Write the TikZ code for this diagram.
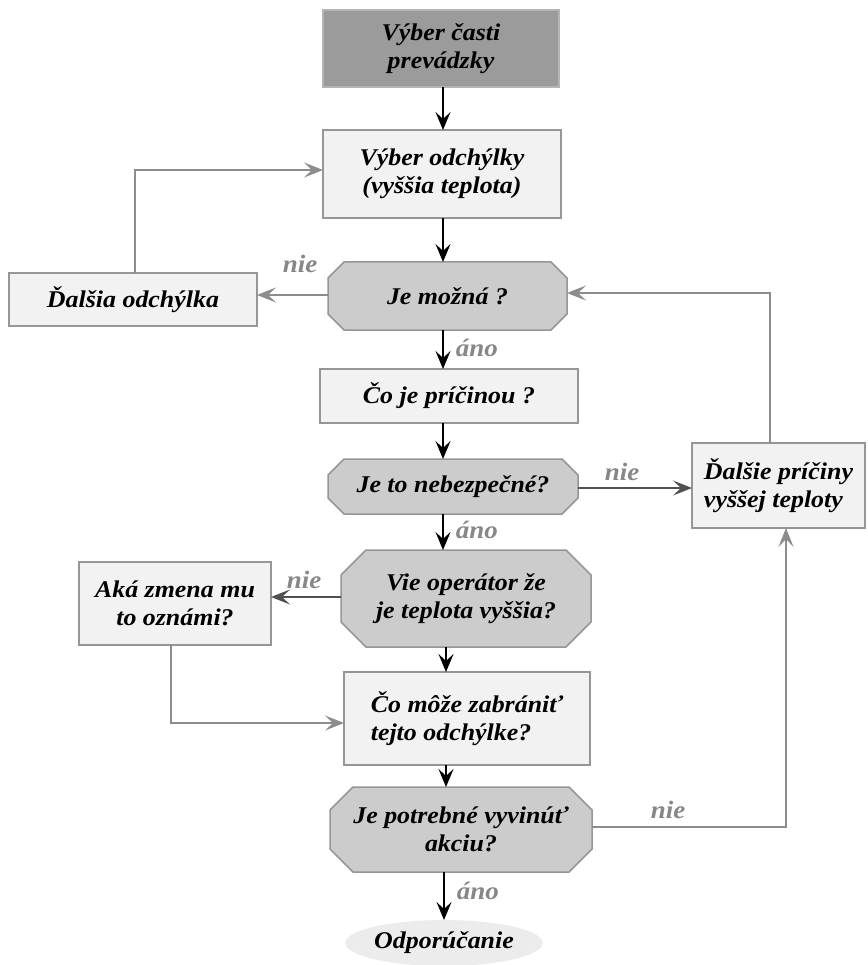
\documentclass[tikz,border=0pt]{standalone}
\usepackage{fontspec}
\setmainfont{Liberation Serif}[FakeStretch=1.08]
\usetikzlibrary{arrows.meta,shapes.geometric}
\definecolor{boxfill}{RGB}{242,242,242}
\definecolor{darkfill}{RGB}{155,155,155}
\definecolor{octfill}{RGB}{204,204,204}
\definecolor{edgegray}{RGB}{150,150,150}
\definecolor{linkgray}{RGB}{140,140,140}
\definecolor{labgray}{RGB}{135,135,135}
\definecolor{darkline}{RGB}{80,80,80}
\definecolor{ellfill}{RGB}{236,236,236}
\tikzset{
  txt/.style={font=\fontsize{24}{28}\selectfont\bfseries\itshape, align=center, inner sep=0pt, outer sep=0pt},
  boxnode/.style={txt, draw=edgegray, line width=1.5pt, fill=boxfill},
  darkbox/.style={txt, draw=edgegray!70, line width=1.5pt, fill=darkfill},
  octpath/.style={draw=edgegray, line width=1.5pt, fill=octfill},
  blk/.style={draw=black, line width=1.6pt, -{Stealth[length=18pt,width=15pt,inset=7pt]}},
  grayarr/.style={draw=linkgray, line width=1.6pt, -{Stealth[length=19pt,width=15pt,inset=8pt]}},
  darkarr/.style={draw=darkline, line width=1.6pt, -{Stealth[length=19pt,width=15pt,inset=8pt]}},
  lab/.style={font=\fontsize{25}{28}\selectfont\bfseries\itshape, text=labgray, inner sep=0pt}
}
\newcommand\octnode[7]{%
  \path[octpath] ({#2-#4/2+#6},{#3-#5/2}) -- ({#2+#4/2-#6},{#3-#5/2}) -- ({#2+#4/2},{#3-#5/2+#6}) -- ({#2+#4/2},{#3+#5/2-#6}) -- ({#2+#4/2-#6},{#3+#5/2}) -- ({#2-#4/2+#6},{#3+#5/2}) -- ({#2-#4/2},{#3+#5/2-#6}) -- ({#2-#4/2},{#3-#5/2+#6}) -- cycle;
  \node[txt, minimum width=#4pt, minimum height=#5pt] (#1) at (#2,#3) {#7};
}
\begin{document}
\begin{tikzpicture}[x=1pt, y=-1pt]
\useasboundingbox[fill=white] (0,0) rectangle (867,965);

% nodes
\node[darkbox, minimum width=236pt, minimum height=77pt] (b1) at (441,48.5) {Výber časti\\prevádzky};
\node[boxnode, minimum width=238pt, minimum height=88pt] (b2) at (442,174) {Výber odchýlky\\(vyššia teplota)};
\octnode{o1}{447.5}{296}{239}{68}{16}{Je možná ?}
\node[boxnode, minimum width=248pt, minimum height=53pt] (b3) at (133,299.5) {Ďalšia odchýlka};
\node[boxnode, minimum width=258pt, minimum height=54pt] (b4) at (449,396) {Čo je príčinou ?};
\octnode{o2}{453}{486.5}{250}{55}{16}{Je to nebezpečné?}
\node[boxnode, minimum width=173pt, minimum height=85pt, align=left] (b5) at (778.5,485.5) {Ďalšie príčiny\\vyššej teploty};
\node[boxnode, minimum width=192pt, minimum height=83pt] (b6) at (175,603.5) {Aká zmena mu\\to oznámi?};
\octnode{o3}{466}{598.5}{250}{97}{25}{Vie operátor že\\je teplota vyššia?}
\node[boxnode, minimum width=246pt, minimum height=93pt, align=left] (b7) at (467,718.5) {Čo môže zabrániť\\tejto odchýlke?};
\octnode{o4}{461}{829.5}{262}{85}{23}{Je potrebné vyvinúť\\akciu?}
\node[txt, ellipse, fill=ellfill, minimum width=189pt, minimum height=46pt] (e1) at (444,943) {Odporúčanie};

% axes for the main flow
\coordinate (ax) at (443,0);
\coordinate (ax2) at (446,0);
\coordinate (ax3) at (444,0);

% main flow
\draw[blk] (b1.south -| ax) -- (b2.north -| ax);
\draw[blk] (b2.south -| ax) -- (o1.north -| ax);
\draw[blk] (o1.south -| ax) -- (b4.north -| ax) node[lab, pos=0.45, anchor=west, xshift=12pt] (l1) {áno};
\draw[blk] (b4.south -| ax) -- (o2.north -| ax);
\draw[blk] (o2.south -| ax) -- (o3.north -| ax) node[lab, pos=0.45, anchor=west, xshift=12pt] (l2) {áno};
\draw[blk] (o3.south -| ax2) -- (b7.north -| ax2);
\draw[blk] (b7.south -| ax2) -- (o4.north -| ax2);
\draw[blk] (o4.south -| ax3) -- (e1.north -| ax3) node[lab, pos=0.4, anchor=west, xshift=12pt] (l3) {áno};

% side branches
\coordinate (y295) at (0,295);
\draw[grayarr] (o1.west |- y295) -- (b3.east |- y295);
\node[lab] (n1) at (300,264) {nie};

\coordinate (c1) at (135,170);
\draw[grayarr] (b3.north -| c1) -- (c1) -- (b2.west |- c1);

\coordinate (y488) at (0,488);
\draw[darkarr] (o2.east |- y488) -- (b5.west |- y488);
\node[lab] (n2) at (622,472) {nie};

\coordinate (c2) at (770,293);
\draw[grayarr] (b5.north -| c2) -- (c2) -- (o1.east |- c2);

\coordinate (y597) at (0,597);
\draw[darkarr] (o3.west |- y597) -- (b6.east |- y597);
\node[lab] (n3) at (304,580) {nie};

\coordinate (c3) at (171,723);
\draw[grayarr] (b6.south -| c3) -- (c3) -- (b7.west |- c3);

\coordinate (c4) at (786,827);
\draw[grayarr] (o4.east |- c4) -- (c4) -- (b5.south -| c4);
\node[lab] (n4) at (668,810) {nie};
\end{tikzpicture}
\end{document}
